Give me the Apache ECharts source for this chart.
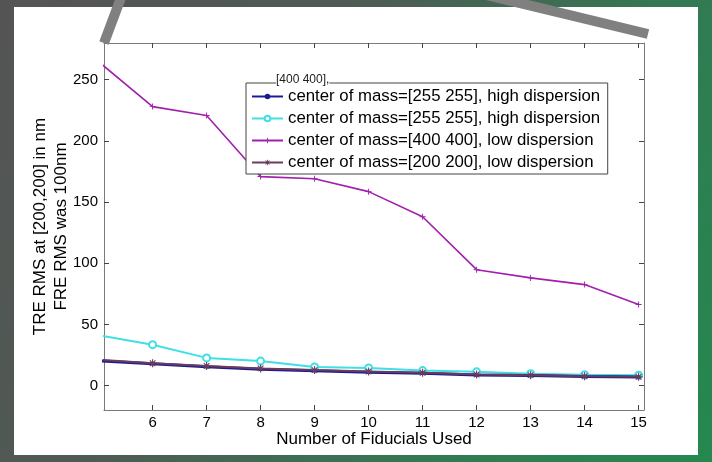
<!DOCTYPE html>
<html>
<head>
<meta charset="utf-8">
<script src="https://cdn.jsdelivr.net/npm/echarts@6/dist/echarts.min.js"></script>
<style>
  html, body { margin: 0; padding: 0; }
  #wrap {
    width: 712px; height: 462px; position: relative;
    background: linear-gradient(120deg, #545454 0%, #4f5a54 35%, #2f7d52 75%, #25884f 100%);
  }
  #main { position: absolute; left: 0; top: 0; width: 712px; height: 462px; }
</style>
</head>
<body>
<div id="wrap"><div id="main"></div></div>
<script>
// number of fiducials
var fiducials = [5, 6, 7, 8, 9, 10, 11, 12, 13, 14, 15];
var xTicks = [6, 7, 8, 9, 10, 11, 12, 13, 14, 15];
var yTicks = [0, 50, 100, 150, 200, 250];

var names = [
    'center of mass=[255 255], high dispersion',
    'center of mass=[255 255], high dispersion ',
    'center of mass=[400 400], low dispersion',
    'center of mass=[200 200], low dispersion'
];
var blueVals   = [20.2, 17.8, 15.4, 13.3, 12.0, 10.9, 10.0, 8.6, 8.1, 7.4, 7.0];
var cyanVals   = [41.2, 33.4, 22.6, 20.0, 15.2, 14.3, 12.2, 11.2, 9.6, 8.8, 8.4];
var purpleVals = [264.7, 228, 220.7, 170.8, 169, 158.5, 138, 94.7, 88, 82.5, 66.2];
var mauveVals  = [21.0, 18.2, 16.0, 14.0, 12.6, 11.5, 10.4, 9.0, 8.5, 7.6, 7.1];

function pairs(vals) {
    var out = [];
    for (var i = 0; i < fiducials.length; i++) out.push([fiducials[i], vals[i]]);
    return out;
}

var font = '"Liberation Sans", Arial, sans-serif';
var axisGray = '#7a7a7a';
var plusPath = 'path://M4.2,0H5.8V4.2H10V5.8H5.8V10H4.2V5.8H0V4.2H4.2Z';
var starPath = 'path://M4.3,0h1.4v10h-1.4z M0,4.3h10v1.4h-10z M1,2L2,1L9,8L8,9Z M8,1L9,2L2,9L1,8Z';

var myChart = echarts.init(document.getElementById('main'));

function xAx(pos, showLabel) {
    return {
        type: 'value', position: pos, min: 5.1, max: 15.1,
        axisLine: { show: true, onZero: false, lineStyle: { color: axisGray, width: 1 } },
        axisTick: { show: true, inside: true, length: 5, customValues: xTicks, lineStyle: { color: '#444' } },
        axisLabel: { show: showLabel, customValues: xTicks, color: '#000', fontSize: 15, fontFamily: font, margin: 5 },
        splitLine: { show: false },
        name: showLabel ? 'Number of Fiducials Used' : '',
        nameLocation: 'middle', nameGap: 21, nameMoveOverlap: false,
        nameTextStyle: { color: '#000', fontSize: 17, fontFamily: font }
    };
}
function yAx(pos, showLabel) {
    return {
        type: 'value', position: pos, min: -20, max: 280,
        axisLine: { show: true, onZero: false, lineStyle: { color: axisGray, width: 1 } },
        axisTick: { show: true, inside: true, length: 5, customValues: yTicks, lineStyle: { color: '#444' } },
        axisLabel: { show: showLabel, customValues: yTicks, color: '#000', fontSize: 15, fontFamily: font, margin: 6 },
        splitLine: { show: false },
        name: showLabel ? 'TRE RMS at [200,200] in nm\nFRE RMS was 100nm' : '',
        nameLocation: 'middle', nameGap: 32, nameRotate: 90, nameMoveOverlap: false,
        nameTextStyle: { color: '#000', fontSize: 17, fontFamily: font, lineHeight: 21, align: 'center' }
    };
}

var option = {
    animation: false,
    grid: { left: 104, right: 68, top: 43, bottom: 52 },
    xAxis: [xAx('bottom', true), xAx('top', false)],
    yAxis: [yAx('left', true), yAx('right', false)],
    legend: {
        orient: 'vertical', left: 246, top: 83,
        data: names,
        backgroundColor: '#fff',
        borderColor: '#444', borderWidth: 1, borderRadius: 0,
        padding: [5, 3, 3, 5],
        itemGap: 5, itemWidth: 31, itemHeight: 7,
        textStyle: { color: '#000', fontSize: 16.8, fontFamily: font },
        selectedMode: false
    },
    graphic: [
        { type: 'rect', z: -10, shape: { x: 14, y: 7, width: 684, height: 448 }, style: { fill: '#fff' } },
        { type: 'line', z: 100, shape: { x1: 104, y1: 43, x2: 122, y2: -5 }, style: { stroke: '#808080', lineWidth: 10 } },
        { type: 'line', z: 100, shape: { x1: 474, y1: -8, x2: 648, y2: 34 }, style: { stroke: '#808080', lineWidth: 10 } },
        { type: 'text', z: 100, left: 276, top: 74,
          style: { text: '[400 400],', fontSize: 12, fontFamily: font, fill: '#222', backgroundColor: '#fff' } }
    ],
    series: [{
        name: names[0], type: 'line', z: 4,
        data: pairs(blueVals),
        symbol: 'circle', symbolSize: 4,
        lineStyle: { color: '#1c1c92', width: 3 },
        itemStyle: { color: '#1c1c92' }
    }, {
        name: names[1], type: 'line', z: 3,
        data: pairs(cyanVals),
        symbol: 'emptyCircle', symbolSize: 7,
        lineStyle: { color: '#3fdfe6', width: 2 },
        itemStyle: { color: '#3fdfe6', borderWidth: 1.5 }
    }, {
        name: names[2], type: 'line', z: 2,
        data: pairs(purpleVals),
        symbol: plusPath, symbolSize: 6,
        lineStyle: { color: '#a21fae', width: 1.6 },
        itemStyle: { color: '#a21fae' }
    }, {
        name: names[3], type: 'line', z: 5,
        data: pairs(mauveVals),
        symbol: starPath, symbolSize: 8,
        lineStyle: { color: '#6b3b5e', width: 2 },
        itemStyle: { color: '#6b3b5e' }
    }]
};
myChart.setOption(option);
</script>
</body>
</html>
